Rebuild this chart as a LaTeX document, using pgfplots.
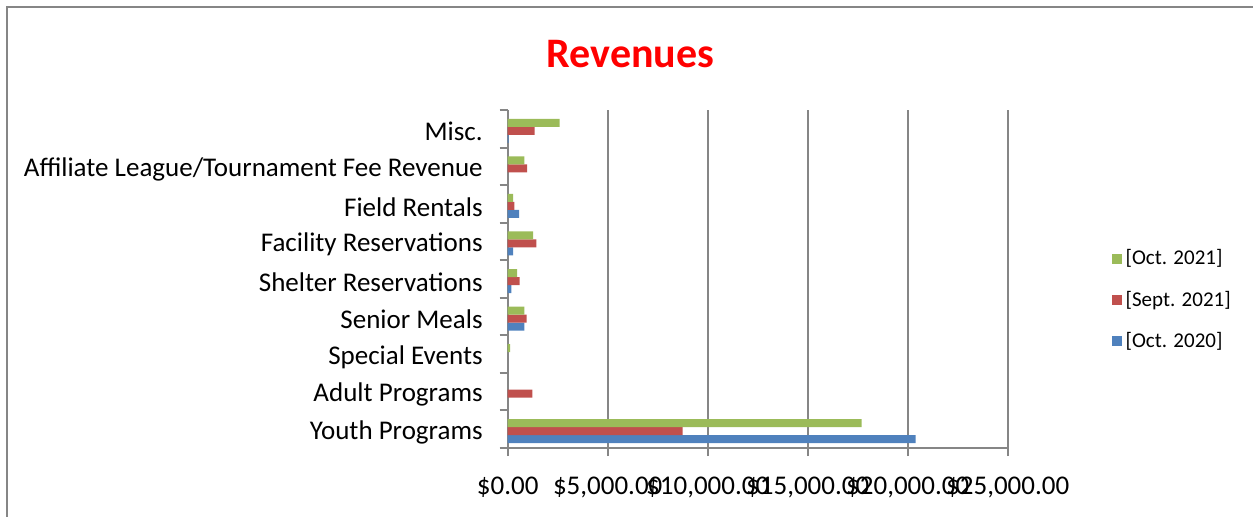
\documentclass[border=0pt]{standalone}
\usepackage{pgfplots}
\pgfplotsset{compat=1.18}
\usepackage{fontspec}
\setmainfont{Carlito}

\definecolor{oct21}{RGB}{155,187,89}
\definecolor{sep21}{RGB}{192,80,77}
\definecolor{oct20}{RGB}{79,129,189}
\definecolor{framegray}{RGB}{134,134,134}

\begin{document}
\begin{tikzpicture}
\useasboundingbox (0,0) rectangle (626.5pt,258pt);
\draw[framegray, line width=1pt] (3.5pt,-5pt) -- (3.5pt,254.5pt) -- (630pt,254.5pt);
\node[anchor=base, text=red, font=\fontsize{21}{25}\selectfont\bfseries] at (315.25pt,224.5pt) {Revenues};

\begin{axis}[
    at={(253.85pt,34pt)}, anchor=south west,
    scale only axis,
    width=250pt, height=169pt,
    xbar, bar width=4pt,
    xmin=0, xmax=25000,
    ymin=-0.5, ymax=8.5,
    axis x line*=bottom, axis y line*=left,
    axis line style={framegray, line width=1pt, -},
    xmajorgrids,
    major grid style={framegray, line width=1pt},
    xtick={0,5000,10000,15000,20000,25000},
    xticklabels={{\$0.00},{\$5,000.00},{\$10,000.00},{\$15,000.00},{\$20,000.00},{\$25,000.00}},
    scaled x ticks=false,
    ytick={0,...,8},
    yticklabels={Youth Programs, Adult Programs, Special Events, Senior Meals, Shelter Reservations, Facility Reservations, Field Rentals, Affiliate League/Tournament Fee Revenue, Misc.},
    minor ytick={-0.5,0.5,...,8.5},
    tick align=outside,
    major tick length=4pt, minor tick length=4pt,
    major x tick style={framegray, line width=1pt},
    major y tick style={draw=none},
    minor y tick style={framegray, line width=1pt},
    tick label style={font=\fontsize{13.5}{16}\selectfont},
    yticklabel style={xshift=-5pt, yshift=-1.5pt},
    xticklabel style={yshift=-7pt},
    /pgf/number format/assume math mode=true,
    legend style={at={(1.195,0.438)}, anchor=west, draw=none, fill=none,
        font=\fontsize{10.5}{12}\selectfont, row sep=7.6pt,
        legend cell align=left},
    reverse legend,
    legend image code/.code={\fill[#1] (0pt,-2.5pt) rectangle (5pt,2.5pt);},
]
\addplot[fill=oct20, draw=none, bar shift=-5pt] coordinates {
    (20390,0) (830,3) (185,4) (270,5) (570,6) (50,8)};
\addplot[fill=sep21, draw=none, bar shift=-1pt] coordinates {
    (8750,0) (1230,1) (950,3) (600,4) (1430,5) (330,6) (970,7) (1350,8)};
\addplot[fill=oct21, draw=none, bar shift=3pt] coordinates {
    (17690,0) (120,2) (830,3) (470,4) (1270,5) (270,6) (830,7) (2600,8)};
\addlegendentry{\relax[Oct. 2020]}
\addlegendentry{\relax[Sept. 2021]}
\addlegendentry{\relax[Oct. 2021]}
\end{axis}
\end{tikzpicture}
\end{document}
